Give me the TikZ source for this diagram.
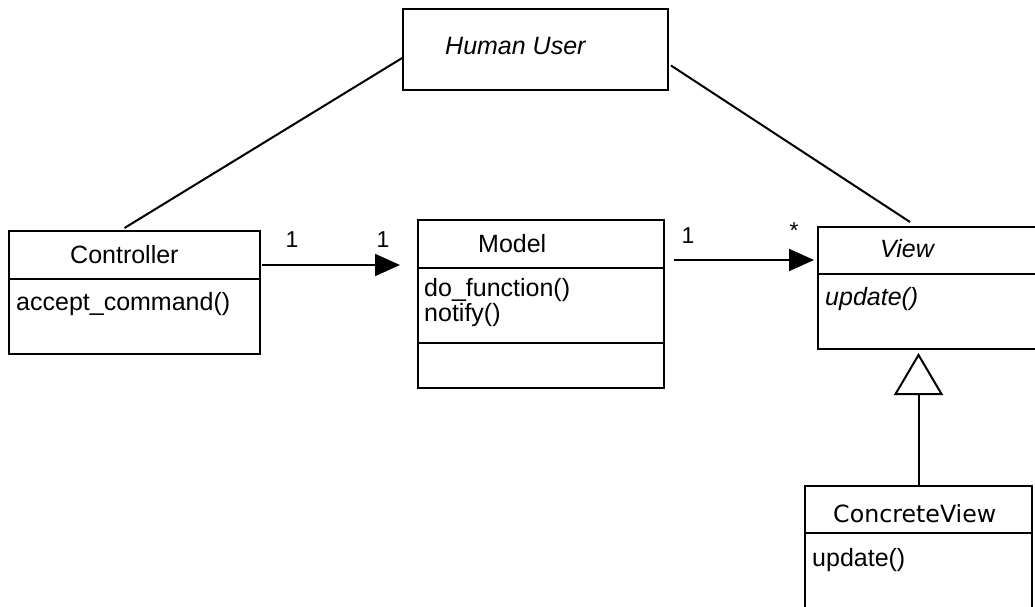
\documentclass[tikz,border=0pt]{standalone}
\usepackage{fontspec}
\setmainfont{Liberation Sans}
\newfontfamily\cvfont{DejaVu Sans}
\usetikzlibrary{arrows.meta}

\tikzset{
  classbox/.style={draw, line width=2pt, rectangle, inner sep=0pt, outer sep=0pt, anchor=north west},
  txt/.style={inner sep=0pt, anchor=base west, font=\fontsize{25}{30}\selectfont},
  itxt/.style={txt, font=\fontsize{25}{30}\selectfont\itshape},
  mult/.style={inner sep=0pt, anchor=base, font=\fontsize{23}{27}\selectfont},
  divider/.style={line width=2pt},
  link/.style={line width=2pt},
  assoc/.style={line width=2pt, -{Triangle[length=25pt,width=22pt]}},
  inherit/.style={line width=2pt, -{Triangle[open,length=42pt,width=49pt,fill=white]}}
}

\begin{document}
\begin{tikzpicture}[x=1pt,y=-1pt]
  \useasboundingbox (0,0) rectangle (1035,607);
  \clip (0,0) rectangle (1035,607);

  % class boxes
  \node[classbox, minimum width=265pt, minimum height=81pt]  (hu)    at (403,9)   {};
  \node[classbox, minimum width=251pt, minimum height=123pt] (ctrl)  at (9,231)   {};
  \node[classbox, minimum width=246pt, minimum height=168pt] (model) at (418,220) {};
  \node[classbox, minimum width=230pt, minimum height=122pt] (view)  at (818,227) {};
  \node[classbox, minimum width=227pt, minimum height=140pt] (cv)    at (805,486) {};

  % compartment dividers
  \draw[divider] (ctrl.west |- 0,279)  -- (ctrl.east |- 0,279);
  \draw[divider] (model.west |- 0,268) -- (model.east |- 0,268);
  \draw[divider] (model.west |- 0,343) -- (model.east |- 0,343);
  \draw[divider] (view.west |- 0,274)  -- (view.east |- 0,274);
  \draw[divider] (cv.west |- 0,533)    -- (cv.east |- 0,533);

  % names and operations
  \node[itxt] (huname)    at (445,55)  {Human User};
  \node[txt]  (ctrlname)  at (70,263)  {Controller};
  \node[txt]  (ctrlop)    at (16,310)  {accept\_command()};
  \node[txt]  (modelname) at (478,252) {Model};
  \node[txt]  (modelop1)  at (424,296) {do\_function()};
  \node[txt]  (modelop2)  at (424,321) {notify()};
  \node[itxt] (viewname)  at (880,257) {View};
  \node[itxt] (viewop)    at (825,305) {update()};
  \node[txt, font=\fontsize{23.7}{28}\cvfont] (cvname) at (833,522) {ConcreteView};
  \node[txt]  (cvop)      at (812,566) {update()};

  % links from the user
  \draw[link] ([yshift=-8pt]hu.west) -- ([xshift=-10pt,yshift=3pt]ctrl.north);
  \draw[link] ([xshift=3pt,yshift=-16pt]hu.east) -- ([xshift=92pt,yshift=5pt]view.north west);

  % associations
  \draw[assoc, shorten <=2pt, shorten >=18pt] ([yshift=27.5pt]ctrl.east) -- ([yshift=39pt]model.west);
  \draw[assoc, shorten <=10pt, shorten >=4pt] ([yshift=44pt]model.east) -- ([yshift=28pt]view.west);

  % multiplicities
  \node[mult] (m1) at (292,247) {1};
  \node[mult] (m2) at (383,247) {1};
  \node[mult] (m3) at (688,243) {1};
  \node[mult] (m4) at (794,238) {*};

  % generalization
  \draw[inherit, shorten >=4pt] (cv.north) -- (cv.north |- view.south);
\end{tikzpicture}
\end{document}
